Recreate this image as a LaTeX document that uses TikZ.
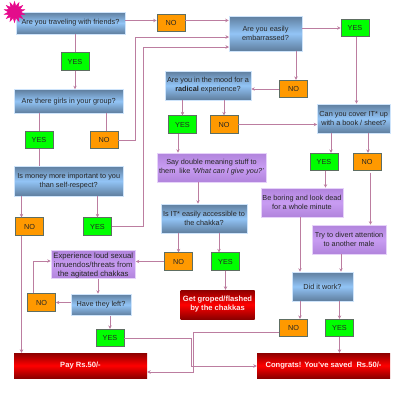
\documentclass[tikz,border=0pt]{standalone}
\usepackage{fontspec}
\setmainfont{Liberation Sans}
\usetikzlibrary{arrows.meta,shapes.geometric}
\definecolor{steeldark}{HTML}{5F7E9E}
\definecolor{steellight}{HTML}{92C4F6}
\definecolor{purpledark}{HTML}{B184DC}
\definecolor{purplelight}{HTML}{C89CF2}
\definecolor{wire}{HTML}{B0668F}
\definecolor{boxedge}{HTML}{5E6E62}
\definecolor{nofill}{HTML}{FF9900}
\tikzset{
  basebox/.style={inner sep=0pt,align=center,font=\fontsize{7.3}{9}\selectfont,text=black!85},
  askbox/.style={basebox,top color=steeldark,bottom color=steeldark,middle color=steellight,draw=steellight!45,line width=.6pt},
  saybox/.style={basebox,top color=purpledark,bottom color=purpledark,middle color=purplelight,draw=purplelight!45,line width=.6pt},
  endbox/.style={basebox,top color=red!55!black,bottom color=red!55!black,middle color=red,text=white!92!red,font=\bfseries\fontsize{7.6}{9}\selectfont},
  yesbox/.style={basebox,fill=green,draw=boxedge,line width=.7pt,minimum width=28pt,minimum height=17.5pt},
  nobox/.style={basebox,fill=nofill,draw=boxedge,line width=.7pt,minimum width=28pt,minimum height=17.5pt},
  wirearrow/.style={draw=wire!85,line width=1pt,-{Stealth[length=3.5pt,width=3.5pt]}},
  wireline/.style={draw=wire!85,line width=1pt},
}
\begin{document}
\begin{tikzpicture}[x=1pt,y=-1pt]
  \useasboundingbox (0,0) rectangle (400,400);

  % questions
  \node[askbox,minimum width=109pt,minimum height=22pt] (travel) at (70.5,23) {Are you traveling with friends?};
  \node[askbox,minimum width=73pt,minimum height=35pt] (shy) at (265.5,33.5) {Are you easily\\embarrassed?};
  \node[askbox,minimum width=109.5pt,minimum height=23.5pt] (girls) at (68.75,101.25) {Are there girls in your group?};
  \node[askbox,minimum width=109.5pt,minimum height=30pt] (money) at (68.75,181) {Is money more important to you\\than self-respect?};
  \node[askbox,minimum width=86pt,minimum height=29pt] (mood) at (208,85.5) {Are you in the mood for a\\\textbf{radical} experience?};
  \node[askbox,minimum width=72.5pt,minimum height=29pt] (cover) at (353.75,118.5) {Can you cover IT* up\\with a book / sheet?};
  \node[askbox,minimum width=86pt,minimum height=29pt] (reach) at (204,218.5) {Is IT* easily accessible to\\the chakka?};
  \node[askbox,minimum width=60pt,minimum height=21.5pt] (left) at (101,304.75) {Have they left?};
  \node[askbox,minimum width=61pt,minimum height=29pt] (work) at (322.5,286.5) {Did it work?};

  % actions
  \node[saybox,minimum width=109pt,minimum height=29pt] (say) at (211.5,167.5) {Say double meaning stuff to\\them\ \ like \textit{`What can I give you?'}};
  \node[saybox,minimum width=82pt,minimum height=29pt] (bored) at (302,202.5) {Be boring and look dead\\for a whole minute};
  \node[saybox,minimum width=74pt,minimum height=29pt] (divert) at (349,239.5) {Try to divert attention\\to another male};
  \node[saybox,minimum width=84.5pt,minimum height=27pt,font=\fontsize{7.7}{9}\selectfont] (abuse) at (93.25,264.5) {\rule{0pt}{8pt}Experience loud sexual\\innuendos/threats from\\the agitated chakkas};

  % endings
  \node[endbox,minimum width=74pt,minimum height=29pt] (groped) at (217.5,304.5) {Get groped/flashed\\by the chakkas};
  \node[endbox,minimum width=133pt,minimum height=25pt] (pay) at (80.5,365.5) {Pay Rs.50/-};
  \node[endbox,minimum width=133pt,minimum height=25pt] (saved) at (323.5,365.5) {Congrats! You've saved\ \ Rs.50/-};

  % yes and no
  \node[nobox] (notravel) at (171,23) {NO};
  \node[yesbox] (yestravel) at (75,61.5) {YES};
  \node[yesbox] (yesgirls) at (39,140) {YES};
  \node[nobox] (nogirls) at (104,140) {NO};
  \node[nobox] (nomoney) at (29.5,226.5) {NO};
  \node[yesbox] (yesmoney) at (97.5,226.5) {YES};
  \node[yesbox] (yesshy) at (355,28) {YES};
  \node[nobox] (noshy) at (293.5,89) {NO};
  \node[yesbox] (yesmood) at (182.5,124.5) {YES};
  \node[nobox] (nomood) at (224,124.5) {NO};
  \node[yesbox] (yescover) at (324,162) {YES};
  \node[nobox] (nocover) at (367,162) {NO};
  \node[nobox] (noreach) at (178.5,261.5) {NO};
  \node[yesbox] (yesreach) at (225.5,261.5) {YES};
  \node[nobox] (noleft) at (41.5,302.5) {NO};
  \node[yesbox] (yesleft) at (110,338) {YES};
  \node[nobox] (nowork) at (293.5,328) {NO};
  \node[yesbox] (yeswork) at (339.5,328) {YES};

  \node[star,star points=14,star point ratio=1.7,fill=magenta!90!violet,draw=magenta,minimum size=21pt,inner sep=0pt] (burst) at (14.5,12) {};

  % free corners
  \coordinate (girlsbend) at (135.5,135);
  \coordinate (shylow) at (229,37);
  \coordinate (moneybend) at (143,225);
  \coordinate (shylower) at (229,47);
  \coordinate (yesleftbend) at (191,338);
  \coordinate (savedbend) at (191,366);
  \coordinate (noworkbend) at (193,332);
  \coordinate (paybend) at (193,372);
  \coordinate (abusebend) at (33,261);

  % top row
  \draw[wirearrow] (travel.east |- notravel.170) -- (notravel.170);
  \draw[wirearrow] (notravel.10) -- (shy.west |- notravel.10);
  \draw[wirearrow] (shy.east |- yesshy.west) -- (yesshy.west);
  \draw[wireline] (yestravel.north |- travel.south) -- (yestravel.north);
  \draw[wirearrow] (yestravel.south) -- (yestravel.south |- girls.north);
  \draw[wireline] (yesgirls.north |- girls.south) -- (yesgirls.north);
  \draw[wireline] (106,0 |- girls.south) -- (106,0 |- nogirls.north);
  \draw[wireline] (yesgirls.south) -- (yesgirls.south |- money.north);
  \draw[wirearrow] (nogirls.east) -- (nogirls.east -| girlsbend) -- (girlsbend |- shylow) -- (shylow);
  \draw[wirearrow] (yesmoney.east) -- (yesmoney.east -| moneybend) -- (moneybend |- shylower) -- (shylower);
  \draw[wirearrow] (21.5,0 |- money.south) -- (21.5,0 |- nomoney.north);
  \draw[wirearrow] (yesmoney.north |- money.south) -- (yesmoney.north);
  \draw[wirearrow] (21.5,0 |- nomoney.south) -- (21.5,0 |- pay.north);

  % middle
  \draw[wirearrow] (296,0 |- shy.south) -- (296,0 |- noshy.north);
  \draw[wirearrow] (noshy.west) -- (mood.east |- noshy.west);
  \draw[wirearrow] (356.5,0 |- yesshy.south) -- (356.5,0 |- cover.north);
  \draw[wirearrow] (yesmood.north |- mood.south) -- (yesmood.north);
  \draw[wirearrow] (nomood.north |- mood.south) -- (nomood.north);
  \draw[wirearrow] (nomood.east) -- (cover.west |- nomood.east);
  \draw[wirearrow] (178,0 |- yesmood.south) -- (178,0 |- say.north);
  \draw[wirearrow] (198,0 |- say.south) -- (198,0 |- reach.north);
  \draw[wirearrow] (331,0 |- cover.south) -- (331,0 |- yescover.north);
  \draw[wirearrow] (368,0 |- cover.south) -- (368,0 |- nocover.north);
  \draw[wirearrow] (325.5,0 |- yescover.south) -- (325.5,0 |- bored.north);
  \draw[wirearrow] (370.5,0 |- nocover.south) ++(0,1.5) -- (370.5,0 |- divert.north);
  \draw[wirearrow] (300,0 |- bored.south) -- (300,0 |- work.north);
  \draw[wirearrow] (341,0 |- divert.south) -- (341,0 |- work.north);

  % bottom left
  \draw[wirearrow] (noreach.north |- reach.south) -- (noreach.north);
  \draw[wirearrow] (219,0 |- reach.south) -- (219,0 |- yesreach.north);
  \draw[wirearrow] (yesreach.south) -- (yesreach.south |- groped.north);
  \draw[wirearrow] (noreach.west) -- (abuse.east |- noreach.west);
  \draw[wirearrow] (98,0 |- abuse.south) -- (98,0 |- left.north);
  \draw[wirearrow] (left.west |- noleft.east) -- (noleft.east);
  \draw[wirearrow] (abusebend |- noleft.north) -- (abusebend) -- (abuse.west |- abusebend);
  \draw[wirearrow] (yesleft.north |- left.south) -- (yesleft.north);
  \draw[wirearrow] (yesleft.east) -- (yesleftbend) -- (savedbend) -- (saved.west |- savedbend);
  \draw[wirearrow] (nowork.west |- noworkbend) -- (noworkbend) -- (paybend) -- (pay.east |- paybend);

  % bottom right
  \draw[wirearrow] (300,0 |- work.south) -- (300,0 |- nowork.north);
  \draw[wirearrow] (yeswork.north |- work.south) -- (yeswork.north);
  \draw[wirearrow] (yeswork.south) -- (yeswork.south |- saved.north);
\end{tikzpicture}
\end{document}
